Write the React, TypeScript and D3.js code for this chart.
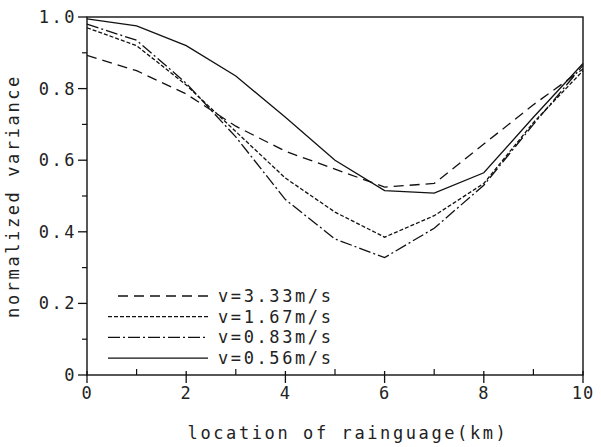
import { useEffect, useRef } from 'react'
import * as d3 from 'd3'

const locations = [0, 1, 2, 3, 4, 5, 6, 7, 8, 9, 10]
const v333 = [0.893, 0.85, 0.785, 0.695, 0.625, 0.575, 0.525, 0.535, 0.645, 0.755, 0.855]
const v167 = [0.97, 0.92, 0.81, 0.68, 0.55, 0.455, 0.385, 0.445, 0.535, 0.705, 0.85]
const v083 = [0.98, 0.935, 0.815, 0.665, 0.49, 0.38, 0.328, 0.41, 0.53, 0.7, 0.865]
const v056 = [0.995, 0.975, 0.92, 0.835, 0.72, 0.6, 0.515, 0.508, 0.565, 0.72, 0.87]

const seriesNames = ['v=3.33m/s', 'v=1.67m/s', 'v=0.83m/s', 'v=0.56m/s']
const seriesValues = [v333, v167, v083, v056]
const dashes = ['10,6', '4,2', '12,3,2,3', null]

const xTicks = [0, 2, 4, 6, 8, 10]
const yTicks = [0, 0.2, 0.4, 0.6, 0.8, 1.0]
const yTickLabels = ['0', '0.2', '0.4', '0.6', '0.8', '1.0']

const App: React.FC = () => {
  const svgRef = useRef<SVGSVGElement>(null)

  useEffect(() => {
    if (!svgRef.current) return
    const width = 601
    const height = 447
    const margin = { top: 17, right: 18, bottom: 72, left: 87 }
    const w = width - margin.left - margin.right
    const h = height - margin.top - margin.bottom
    const font = "'DejaVu Sans Mono', monospace"
    const ink = '#111'
    const textInk = '#222'

    const root = d3.select(svgRef.current)
    root.selectAll('*').remove()
    root.attr('width', width).attr('height', height)

    const svg = root.append('g')
      .attr('transform', `translate(${margin.left},${margin.top})`)

    const x = d3.scaleLinear().domain([0, 10]).range([0, w])
    const y = d3.scaleLinear().domain([0, 1]).range([h, 0])

    // frame
    svg.append('rect')
      .attr('width', w).attr('height', h)
      .style('fill', 'none').style('stroke', ink).style('stroke-width', 1.4)

    // x ticks: major cross down, minor inside
    svg.selectAll('.xmaj').data(xTicks).enter().append('line')
      .attr('x1', d => x(d)).attr('x2', d => x(d))
      .attr('y1', h - 4).attr('y2', h + 8)
      .style('stroke', ink).style('stroke-width', 1.3)
    svg.selectAll('.xmin').data([1, 3, 5, 7, 9]).enter().append('line')
      .attr('x1', d => x(d)).attr('x2', d => x(d))
      .attr('y1', h - 6).attr('y2', h)
      .style('stroke', ink).style('stroke-width', 1.2)
    svg.selectAll('.xlab').data(xTicks).enter().append('text')
      .attr('x', d => x(d)).attr('y', h + 24)
      .attr('text-anchor', 'middle')
      .style('font-family', font).style('font-size', '17px')
      .style('letter-spacing', '1px').style('fill', textInk)
      .text(d => String(d))

    // y ticks
    svg.selectAll('.ymaj').data(yTicks).enter().append('line')
      .attr('x1', -9).attr('x2', 0)
      .attr('y1', d => y(d)).attr('y2', d => y(d))
      .style('stroke', ink).style('stroke-width', 1.3)
    svg.selectAll('.ymin').data([0.1, 0.3, 0.5, 0.7, 0.9]).enter().append('line')
      .attr('x1', -5).attr('x2', 0)
      .attr('y1', d => y(d)).attr('y2', d => y(d))
      .style('stroke', ink).style('stroke-width', 1.2)
    svg.selectAll('.ylab').data(yTicks).enter().append('text')
      .attr('x', -10).attr('y', d => y(d))
      .attr('dy', '0.35em')
      .attr('text-anchor', 'end')
      .style('font-family', font).style('font-size', '17px')
      .style('letter-spacing', '2.5px').style('fill', textInk)
      .text((d, i) => yTickLabels[i])

    // axis titles
    svg.append('text')
      .attr('x', w / 2 + 13).attr('y', h + 64)
      .attr('text-anchor', 'middle')
      .style('font-family', font).style('font-size', '17px')
      .style('letter-spacing', '2.6px').style('fill', textInk)
      .text('location of rainguage(km)')
    svg.append('text')
      .attr('transform', `translate(${-68},${h / 2}) rotate(-90)`)
      .attr('text-anchor', 'middle')
      .style('font-family', font).style('font-size', '17px')
      .style('letter-spacing', '2.6px').style('fill', textInk)
      .text('normalized variance')

    // lines
    const line = d3.line<number>()
      .x((d, i) => x(locations[i]))
      .y(d => y(d))

    seriesValues.forEach((vals, k) => {
      svg.append('path')
        .datum(vals)
        .attr('d', line)
        .style('fill', 'none')
        .style('stroke', ink)
        .style('stroke-width', 1.3)
        .style('stroke-dasharray', dashes[k] ?? 'none')
    })

    // legend
    const lg = svg.append('g').attr('transform', `translate(${108 - margin.left},${296 - margin.top})`)
    seriesNames.forEach((name, k) => {
      lg.append('line')
        .attr('x1', k === 0 ? 10 : 0).attr('x2', 100)
        .attr('y1', k * 20.7).attr('y2', k * 20.7)
        .style('stroke', ink).style('stroke-width', 1.3)
        .style('stroke-dasharray', dashes[k] ?? 'none')
      lg.append('text')
        .attr('x', 110).attr('y', k * 20.7).attr('dy', '0.35em')
        .style('font-family', font).style('font-size', '17px')
        .style('letter-spacing', '2.6px').style('fill', textInk)
        .text(name)
    })
  }, [])

  return <svg ref={svgRef} style={{ position: 'absolute', left: 0, top: 0, background: '#fff' }}></svg>
}

export default App
